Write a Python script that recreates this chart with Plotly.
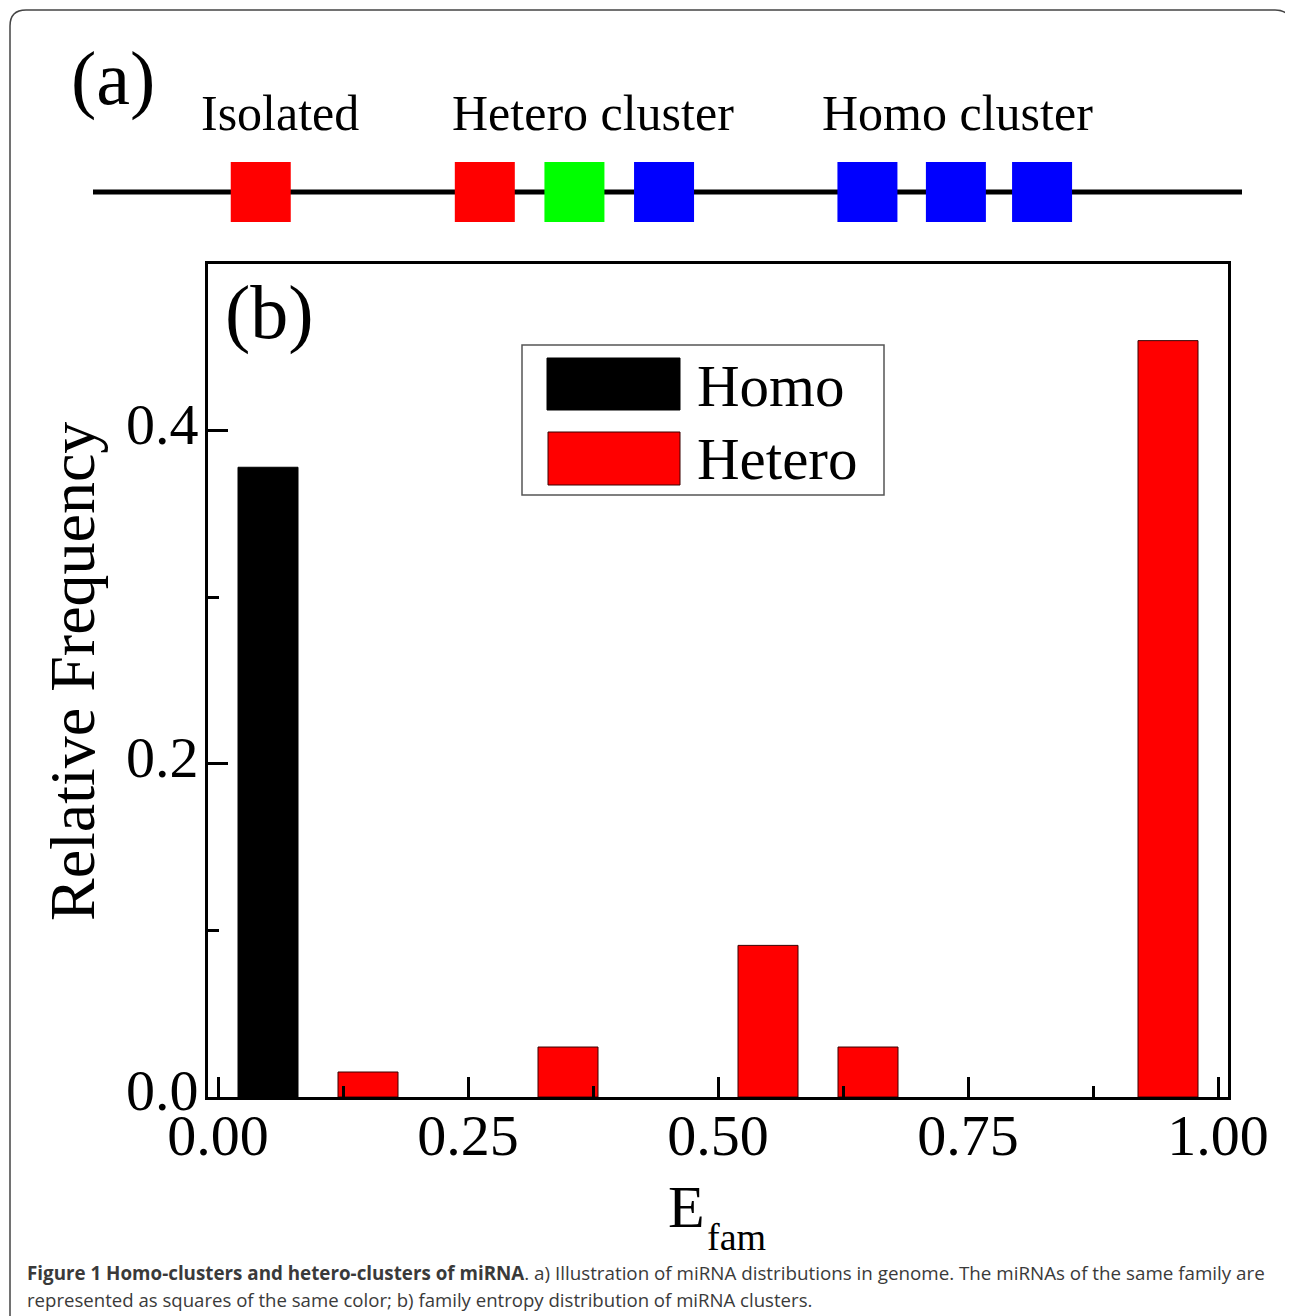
import plotly.graph_objects as go

W, H = 1293, 1316
OFFSET = 8  # page body margin of the browser

# ---- panel (b) data ----
homo_x = [0.05]
homo_y = [0.378]
hetero_x = [0.15, 0.35, 0.55, 0.65, 0.95]
hetero_y = [0.015, 0.030, 0.091, 0.030, 0.454]
bar_width = 0.06
x_tickvals = [0.0, 0.25, 0.5, 0.75, 1.0]
x_ticktext = ["0.00", "0.25", "0.50", "0.75", "1.00"]
y_tickvals = [0.0, 0.2, 0.4]
y_ticktext = ["0.0", "0.2", "0.4"]

# ---- panel (a) illustration data (genome positions, arbitrary units) ----
genome_span = [0, 100]
square_pos = [14.6, 34.1, 41.9, 49.7, 67.4, 75.1, 82.6]
square_colors = ["#FF0000", "#FF0000", "#00FF00", "#0000FF", "#0000FF", "#0000FF", "#0000FF"]
group_labels = ["Isolated", "Hetero cluster", "Homo cluster"]
group_label_pos = [16.3, 43.5, 75.2]

caption_1 = ("<b>Figure 1 Homo-clusters and hetero-clusters of miRNA</b>. a) Illustration of miRNA "
             "distributions in genome. The miRNAs of the same family are")
caption_2 = "represented as squares of the same color; b) family entropy distribution of miRNA clusters."


def px(x):
    return (x - OFFSET) / W


def py(y):
    return 1 - (y - OFFSET) / H


SERIF = "Liberation Serif, Times New Roman, serif"
SANS = "Open Sans, Noto Sans, sans-serif"

fig = go.Figure()

fig.add_trace(go.Bar(x=homo_x, y=homo_y, width=bar_width, name="Homo",
                     marker=dict(color="#000000", line=dict(color="#000000", width=1)),
                     showlegend=False))
fig.add_trace(go.Bar(x=hetero_x, y=hetero_y, width=bar_width, name="Hetero",
                     marker=dict(color="#FF0000", line=dict(color="#3a0000", width=1)),
                     showlegend=False))

# panel (a): genome line and squares
fig.add_trace(go.Scatter(x=genome_span, y=[0, 0], mode="lines", xaxis="x2", yaxis="y2",
                         line=dict(color="#000000", width=5), showlegend=False, hoverinfo="skip"))
fig.add_trace(go.Scatter(x=square_pos, y=[0] * len(square_pos), mode="markers", xaxis="x2", yaxis="y2",
                         marker=dict(symbol="square", size=60, color=square_colors, line=dict(width=0)),
                         showlegend=False, hoverinfo="skip"))

annotations = []
for lab, pos in zip(group_labels, group_label_pos):
    annotations.append(dict(text=lab, x=pos, xref="x2", y=py(113), yref="paper",
                            showarrow=False, xanchor="center", yanchor="middle",
                            font=dict(family=SERIF, size=50, color="#000")))

annotations += [
    dict(text="(a)", x=px(113), y=py(78), xref="paper", yref="paper", showarrow=False,
         xanchor="center", yanchor="middle", font=dict(family=SERIF, size=76, color="#000")),
    dict(text="(b)", x=px(269), y=py(312), xref="paper", yref="paper", showarrow=False,
         xanchor="center", yanchor="middle", font=dict(family=SERIF, size=76, color="#000")),
    dict(text="Relative Frequency", x=px(72), y=py(672), xref="paper", yref="paper", showarrow=False,
         textangle=-90, xanchor="center", yanchor="middle", font=dict(family=SERIF, size=64, color="#000")),
    dict(text="E", x=px(686), y=py(1207), xref="paper", yref="paper", showarrow=False,
         xanchor="center", yanchor="middle", font=dict(family=SERIF, size=60, color="#000")),
    dict(text="fam", x=px(736), y=py(1237), xref="paper", yref="paper", showarrow=False,
         xanchor="center", yanchor="middle", font=dict(family=SERIF, size=38, color="#000")),
    dict(text="Homo", x=px(695), y=py(386), xref="paper", yref="paper", showarrow=False,
         xanchor="left", yanchor="middle", font=dict(family=SERIF, size=59, color="#000")),
    dict(text="Hetero", x=px(695), y=py(459), xref="paper", yref="paper", showarrow=False,
         xanchor="left", yanchor="middle", font=dict(family=SERIF, size=59, color="#000")),
    dict(text=caption_1, x=px(25), y=py(1273), xref="paper", yref="paper", showarrow=False,
         xanchor="left", yanchor="middle", font=dict(family=SANS, size=18.8, color="#3a3a3a")),
    dict(text=caption_2, x=px(25), y=py(1299), xref="paper", yref="paper", showarrow=False,
         xanchor="left", yanchor="middle", font=dict(family=SANS, size=18.6, color="#3a3a3a")),
]

r = 16
x0, x1, y0, y1 = 10, 1291, 10, 1340
border_path = (f"M {px(x0)},{py(y1)} L {px(x0)},{py(y0 + r)} Q {px(x0)},{py(y0)} {px(x0 + r)},{py(y0)} "
               f"L {px(x1 - r)},{py(y0)} Q {px(x1)},{py(y0)} {px(x1)},{py(y0 + r)} L {px(x1)},{py(y1)}")

shapes = [
    dict(type="path", path=border_path, xref="paper", yref="paper",
         line=dict(color="#444444", width=1.5)),
    # legend box and swatches
    dict(type="rect", xref="paper", yref="paper", x0=px(522), x1=px(884), y0=py(495), y1=py(345),
         line=dict(color="#555555", width=1.5), fillcolor="rgba(0,0,0,0)"),
    dict(type="rect", xref="paper", yref="paper", x0=px(547), x1=px(680), y0=py(410), y1=py(358),
         line=dict(color="#000000", width=1), fillcolor="#000000"),
    dict(type="rect", xref="paper", yref="paper", x0=px(548), x1=px(680), y0=py(485), y1=py(432),
         line=dict(color="#3a0000", width=1), fillcolor="#FF0000"),
]

fig.update_layout(
    width=W, height=H,
    autosize=False,
    margin=dict(l=0, r=0, t=0, b=0, pad=0, autoexpand=False),
    paper_bgcolor="white", plot_bgcolor="white",
    barmode="overlay",
    showlegend=False,
    annotations=annotations,
    shapes=shapes,
    xaxis=dict(domain=[px(208), px(1228)], range=[-0.01, 1.01],
               tickvals=x_tickvals, ticktext=x_ticktext,
               ticks="inside", ticklen=20, tickwidth=3, tickcolor="#000",
               minor=dict(dtick=0.125, tick0=0, ticks="inside", ticklen=11, tickwidth=3, tickcolor="#000"),
               showline=True, linecolor="#000", linewidth=3, mirror=True,
               showgrid=False, zeroline=False, automargin=False,
               tickfont=dict(family=SERIF, size=58, color="#000"),
               ticklabelstandoff=-15, anchor="y"),
    yaxis=dict(domain=[py(1097), py(264)], range=[0, 0.5],
               tickvals=y_tickvals, ticktext=y_ticktext,
               ticks="inside", ticklen=20, tickwidth=3, tickcolor="#000",
               minor=dict(dtick=0.1, tick0=0, ticks="inside", ticklen=11, tickwidth=3, tickcolor="#000"),
               showline=True, linecolor="#000", linewidth=3, mirror=True,
               showgrid=False, zeroline=False, automargin=False,
               tickfont=dict(family=SERIF, size=58, color="#000"),
               ticklabelstandoff=-5, ticklabelshift=-7, anchor="x"),
    xaxis2=dict(domain=[px(93), px(1242)], range=genome_span, visible=False, anchor="y2",
                showgrid=False, zeroline=False, automargin=False),
    yaxis2=dict(domain=[py(232), py(152)], range=[-1, 1], visible=False, anchor="x2",
                showgrid=False, zeroline=False, automargin=False),
)

fig.write_html("out.html")
